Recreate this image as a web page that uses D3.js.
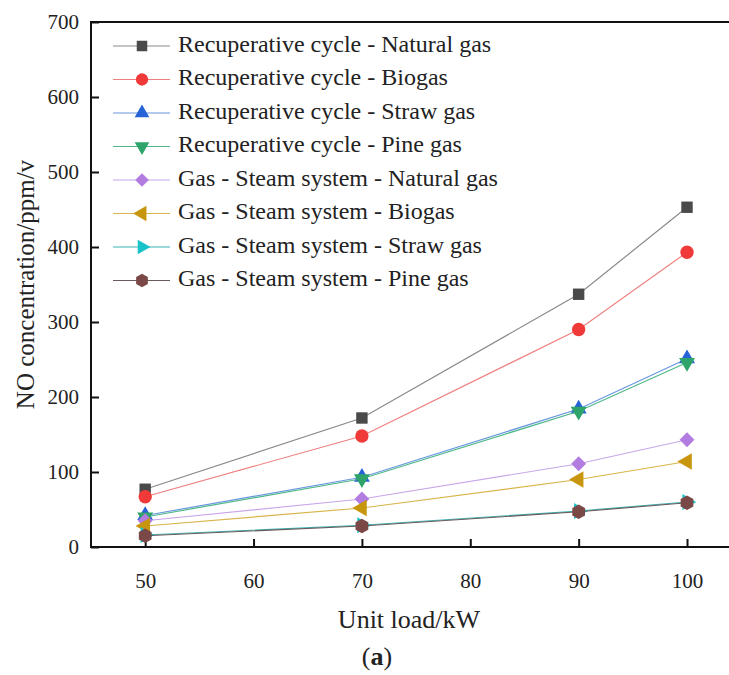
<!DOCTYPE html>
<html>
<head>
<meta charset="utf-8">
<script src="https://cdn.jsdelivr.net/npm/d3@7"></script>
<style>
  body { margin: 0; background: #fff; }
  svg { display: block; }
  text { font-family: "Liberation Serif", "DejaVu Serif", serif; fill: #222; }
</style>
</head>
<body>
<svg id="chart" width="729" height="675"></svg>
<script>
// data
var loads = [50, 70, 90, 100];
var seriesNames = [
  'Recuperative cycle - Natural gas',
  'Recuperative cycle - Biogas',
  'Recuperative cycle - Straw gas',
  'Recuperative cycle - Pine gas',
  'Gas - Steam system - Natural gas',
  'Gas - Steam system - Biogas',
  'Gas - Steam system - Straw gas',
  'Gas - Steam system - Pine gas'
];
var rcNatural = [77, 172, 337, 453];
var rcBiogas = [67, 148, 290, 393];
var rcStraw = [42, 93, 184, 251];
var rcPine = [40, 91, 181, 246];
var gsNatural = [35, 64, 111, 143];
var gsBiogas = [28, 52, 90, 114];
var gsStraw = [16, 29, 48, 60];
var gsPine = [15, 28, 47, 59];
var xTicks = [50, 60, 70, 80, 90, 100];
var yTicks = [0, 100, 200, 300, 400, 500, 600, 700];

var values = [rcNatural, rcBiogas, rcStraw, rcPine, gsNatural, gsBiogas, gsStraw, gsPine];
var colors = ['#4a4a4a', '#f03a3a', '#2563d6', '#2ea46a', '#b27ce0', '#c8960e', '#17c3c8', '#7a4846'];
var lineColors = ['#8a8a8a', '#ef8080', '#6a96e0', '#4fb888', '#c9a6ea', '#d9b54a', '#3cb5b8', '#6a5a5a'];

// hexagon symbol (flat sides left/right like Origin)
var symbolHexagon = {
  draw: function(context, size) {
    var r = Math.sqrt(size / (1.5 * Math.sqrt(3)));
    for (var k = 0; k < 6; k++) {
      var a = Math.PI / 6 + k * Math.PI / 3;
      if (k === 0) context.moveTo(r * Math.cos(a), r * Math.sin(a));
      else context.lineTo(r * Math.cos(a), r * Math.sin(a));
    }
    context.closePath();
  }
};
var shapes = [
  { type: d3.symbolSquare, size: 130, rot: 0 },
  { type: d3.symbolCircle, size: 140, rot: 0 },
  { type: d3.symbolTriangle, size: 110, rot: 0 },
  { type: d3.symbolTriangle, size: 110, rot: 180 },
  { type: d3.symbolSquare, size: 110, rot: 45 },
  { type: d3.symbolTriangle, size: 120, rot: -90 },
  { type: d3.symbolTriangle, size: 110, rot: 90 },
  { type: symbolHexagon, size: 140, rot: 0 }
];

var svg = d3.select('#chart');
var plotLeft = 91, plotRight = 731, plotTop = 22, plotBottom = 547;

var x = d3.scaleLinear().domain([45, 100 + (plotRight - 687) / 10.84]).range([plotLeft, plotRight]);
var y = d3.scaleLinear().domain([0, 700]).range([plotBottom, plotTop]);

// frame
svg.append('rect')
  .attr('x', plotLeft).attr('y', plotTop)
  .attr('width', plotRight - plotLeft).attr('height', plotBottom - plotTop)
  .attr('fill', 'none').attr('stroke', '#111').attr('stroke-width', 2);

// bottom axis (ticks inward)
var xAxis = svg.append('g').attr('transform', 'translate(0,' + plotBottom + ')')
  .call(d3.axisBottom(x).tickValues(xTicks).tickSizeInner(-8).tickSizeOuter(0).tickPadding(26));
xAxis.select('.domain').remove();
xAxis.selectAll('.tick line').attr('stroke', '#111').attr('stroke-width', 2);
xAxis.selectAll('.tick text').attr('font-size', 21).attr('font-family', '"Liberation Serif", serif').attr('fill', '#222');

// left axis (ticks inward)
var yAxis = svg.append('g').attr('transform', 'translate(' + plotLeft + ',0)')
  .call(d3.axisLeft(y).tickValues(yTicks).tickSizeInner(-8).tickSizeOuter(0).tickPadding(12));
yAxis.select('.domain').remove();
yAxis.selectAll('.tick line').attr('stroke', '#111').attr('stroke-width', 2);
yAxis.selectAll('.tick text').attr('font-size', 21).attr('font-family', '"Liberation Serif", serif').attr('fill', '#222');

// axis titles
svg.append('text')
  .attr('transform', 'translate(28,' + ((plotTop + plotBottom) / 2) + ') rotate(-90)')
  .attr('text-anchor', 'middle').attr('dominant-baseline', 'middle')
  .attr('font-size', 25)
  .text('NO concentration/ppm/v');
svg.append('text')
  .attr('x', 409).attr('y', 628)
  .attr('text-anchor', 'middle')
  .attr('font-size', 26)
  .text('Unit load/kW');
svg.append('text')
  .attr('x', 377).attr('y', 665)
  .attr('text-anchor', 'middle')
  .attr('font-size', 26)
  .attr('font-family', '"Open Sans", sans-serif')
  .html('(<tspan font-weight="bold">a</tspan>)');

// series
var line = d3.line().x(function(d) { return x(d.x); }).y(function(d) { return y(d.y); });
values.forEach(function(vals, i) {
  var pts = loads.map(function(l, j) { return { x: l, y: vals[j] }; });
  var g = svg.append('g').attr('class', 'series-' + i);
  g.append('path')
    .attr('d', line(pts))
    .attr('fill', 'none')
    .attr('stroke', lineColors[i])
    .attr('stroke-width', 1.2);
  var sym = d3.symbol().type(shapes[i].type).size(shapes[i].size);
  g.selectAll('path.pt').data(pts).enter().append('path')
    .attr('class', 'pt')
    .attr('d', sym)
    .attr('transform', function(d) {
      return 'translate(' + x(d.x) + ',' + y(d.y) + ') rotate(' + shapes[i].rot + ')';
    })
    .attr('fill', colors[i]);
});

// legend
var legend = svg.append('g');
seriesNames.forEach(function(name, i) {
  var ly = 46 + i * 33.5;
  legend.append('line')
    .attr('x1', 113).attr('x2', 170).attr('y1', ly).attr('y2', ly)
    .attr('stroke', lineColors[i]).attr('stroke-width', 1.2);
  legend.append('path')
    .attr('d', d3.symbol().type(shapes[i].type).size(shapes[i].size * 0.85))
    .attr('transform', 'translate(142,' + ly + ') rotate(' + shapes[i].rot + ')')
    .attr('fill', colors[i]);
  legend.append('text')
    .attr('x', 178).attr('y', ly)
    .attr('dominant-baseline', 'middle')
    .attr('font-size', 24)
    .text(name);
});
</script>
</body>
</html>
